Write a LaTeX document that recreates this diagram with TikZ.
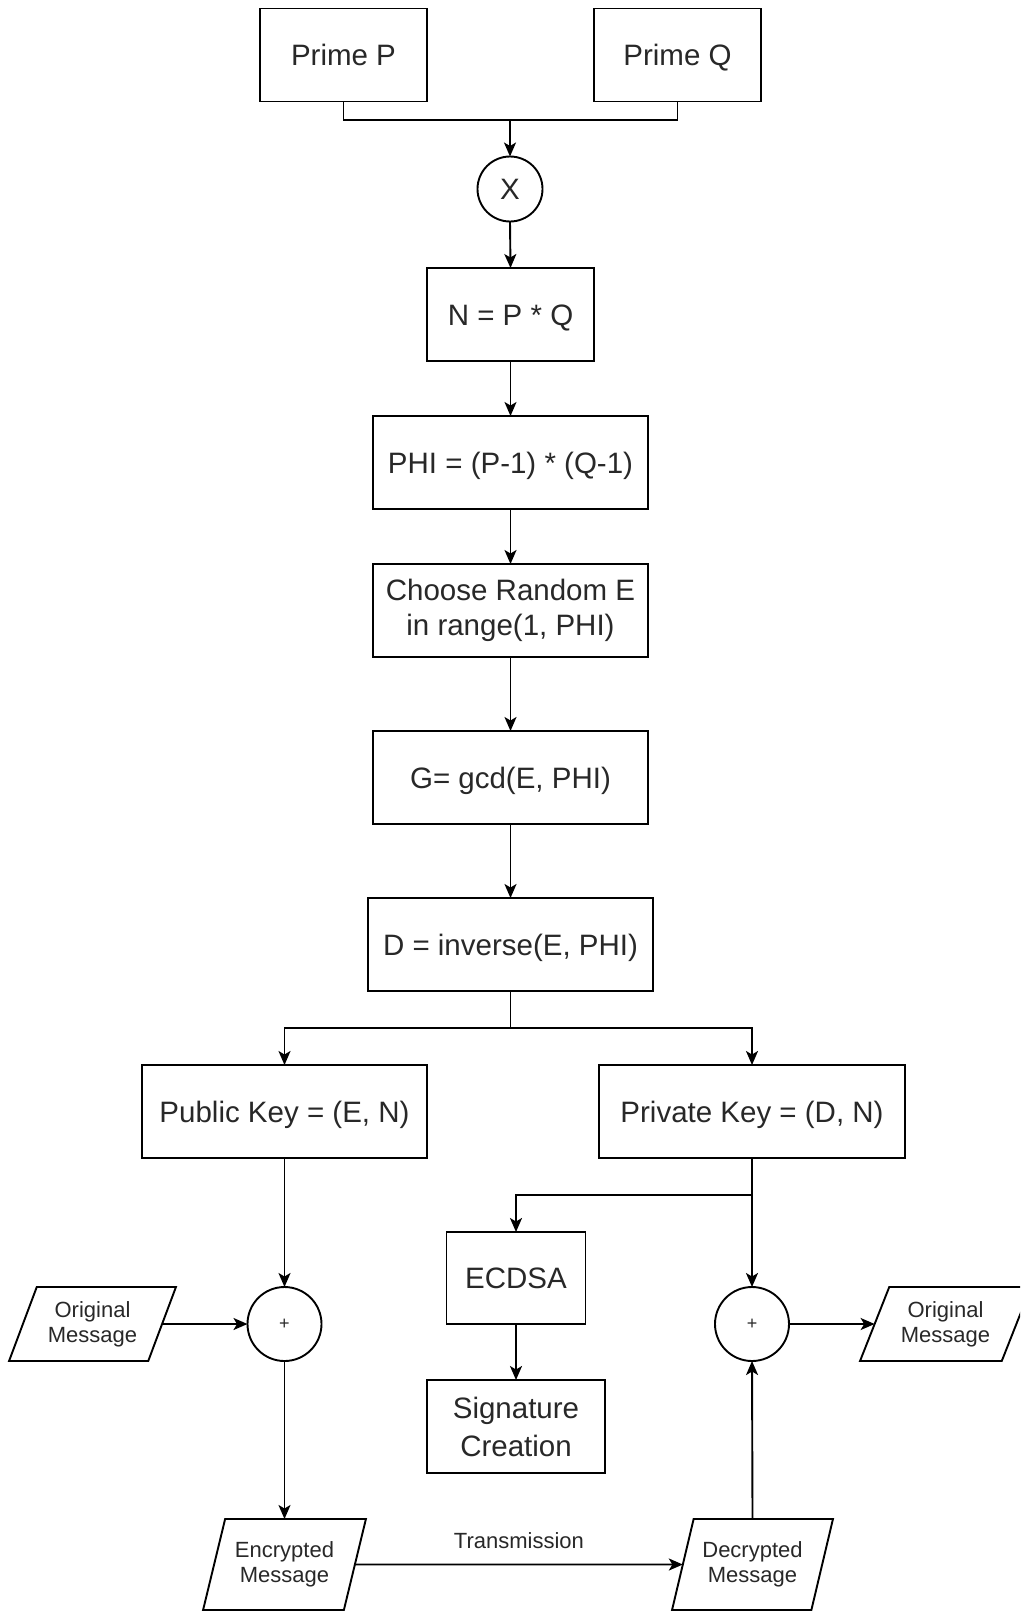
\documentclass[tikz,border=0pt]{standalone}
\usepackage{fontspec}
\setmainfont{Liberation Sans}
\usetikzlibrary{arrows.meta,shapes.geometric}

\newcommand\fntbig{\fontsize{29.5}{35}\selectfont}
\newcommand\fntsig{\fontsize{29.5}{38}\selectfont}
\newcommand\fntsmall{\fontsize{22}{25}\selectfont}
\newcommand\fntop{\fontsize{18}{20}\selectfont}
\definecolor{txtgray}{RGB}{40,40,40}

\begin{document}
\begin{tikzpicture}[x=1pt,y=-1pt,
  every node/.style={text=txtgray},
  box/.style={draw, line width=1.9pt, fill=white, rectangle, inner sep=0pt, outer sep=0pt,
              minimum width=#1, minimum height=93pt, align=center, font=\fntbig},
  oneline/.style={text height=23pt, text depth=2pt},
  opnode/.style={draw, line width=1.9pt, fill=white, circle, inner sep=0pt, outer sep=0pt,
                 minimum size=#1},
  iobox/.style={draw, line width=1.9pt, fill=white, trapezium, trapezium stretches=true,
                trapezium left angle=#1, trapezium right angle=180-#1,
                inner sep=0pt, outer sep=0pt, align=center, font=\fntsmall},
  arr/.style={line width=1.9pt, -{Stealth[length=14pt,width=12pt,inset=3.5pt]}},
  link/.style={line width=1.9pt}
]
\useasboundingbox (0,0) rectangle (1020,1611);
\clip (0,0) rectangle (1020,1611);

% key generation chain
\node[box=167pt, oneline] (pp) at (343.5,55) {Prime P};
\node[box=167pt, oneline] (pq) at (677.5,55) {Prime Q};
\coordinate (join) at (510,120);
\node[opnode=65pt, font=\fntbig, oneline] (mul) at (510,189) {X};
\node[box=167pt, oneline] (n) at (510.5,314.5) {N = P * Q};
\node[box=275pt, oneline] (phi) at (510.5,462.5) {PHI = (P-1) * (Q-1)};
\node[box=275pt] (cho) at (510.5,610.5) {Choose Random E\\in range(1, PHI)};
\node[box=275pt, oneline] (gcd) at (510.5,777.5) {G= gcd(E, PHI)};
\node[box=285pt, oneline] (inv) at (510.5,944.5) {D = inverse(E, PHI)};
\coordinate (split) at (510.5,1028);

% keys
\node[box=285pt, oneline] (pub) at (284.5,1111.5) {Public Key = (E, N)};
\node[box=306pt, oneline] (priv) at (752,1111.5) {Private Key = (D, N)};
\coordinate (branch) at (752,1195);

% signature branch
\node[box=139pt, minimum height=92pt, oneline] (ecdsa) at (516,1278) {ECDSA};
\node[box=178pt, font=\fntsig] (sig) at (516,1426.5) {Signature\\Creation};

% encryption / decryption
\node[opnode=74pt, font=\fntop] (encop) at (284.5,1324) {+};
\node[opnode=74pt, font=\fntop] (decop) at (752,1324) {+};
\node[iobox=64, minimum width=167pt, minimum height=74pt] (origL) at (92.5,1324) {Original\\Message};
\node[iobox=63, minimum width=171pt, minimum height=74pt] (origR) at (945.5,1324) {Original\\Message};
\node[iobox=68, minimum width=163pt, minimum height=91pt] (enc) at (284.5,1564.5) {Encrypted\\Message};
\node[iobox=68, minimum width=161pt, minimum height=91pt] (dec) at (752.5,1564.5) {Decrypted\\Message};

% connectors
\draw[link] (pp.south) |- (join) -| (pq.south);
\draw[arr] (join) -- (mul.north);
\draw[arr] (mul.south) -- (n.north);
\draw[arr] (n.south) -- (phi.north);
\draw[arr] (phi.south) -- (cho.north);
\draw[arr] (cho.south) -- (gcd.north);
\draw[arr] (gcd.south) -- (inv.north);
\draw[link] (inv.south) -- (split);
\draw[arr] (split) -| (pub.north);
\draw[arr] (split) -| (priv.north);
\draw[arr] (pub.south) -- (encop.north);
\draw[arr] (priv.south) -- (decop.north);
\draw[arr] (branch) -| (ecdsa.north);
\draw[arr] (ecdsa.south) -- (sig.north);
\draw[arr] (origL.east) -- (encop.west);
\draw[arr] (encop.south) -- (encop |- enc.north);
\draw[arr] (enc.east) -- node[above=12pt, font=\fntsmall] (tx) {Transmission} (dec.west);
\draw[arr] (dec.north) -- (decop.south);
\draw[arr] (decop.east) -- (origR.west);
\end{tikzpicture}
\end{document}
